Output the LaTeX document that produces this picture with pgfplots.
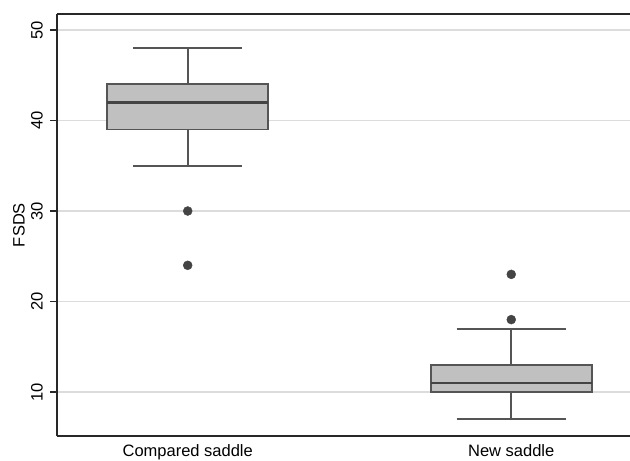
\documentclass[border=0pt]{standalone}
\usepackage{fontspec}
\setmainfont{Liberation Sans}
\usepackage{pgfplots}
\pgfplotsset{compat=1.18}
\definecolor{boxfill}{RGB}{192,192,192}
\definecolor{boxedge}{RGB}{85,85,85}
\definecolor{outl}{RGB}{68,68,68}
\definecolor{gridc}{RGB}{220,220,220}
\definecolor{spine}{RGB}{40,40,40}
\begin{document}
\begin{tikzpicture}
\useasboundingbox (0pt,0pt) rectangle (630pt,461pt);
\begin{axis}[
  at={(57pt,25pt)}, anchor=south west,
  scale only axis, width=573pt, height=422pt,
  xmin=0.596, xmax=2.367, ymin=5.14, ymax=51.77,
  axis x line=box, axis y line=left,
  axis line style={-, draw=spine, line width=1.6pt},
  xtick={1,2}, xticklabels={Compared saddle, New saddle},
  ytick={10,20,30,40,50},
  ymajorgrids, major grid style={draw=gridc, line width=1.5pt},
  tick style={draw=spine, line width=1.3pt},
  major tick length=7pt, tick align=outside,
  x tick style={draw=none},
  /pgf/number format/assume math mode=true,
  tick label style={font=\fontsize{16.5}{19}\selectfont, text=black},
  yticklabel style={rotate=90, anchor=south, inner sep=0pt, yshift=7pt},
  xticklabel style={anchor=north, inner sep=0pt, yshift=-1pt},
  ylabel={FSDS},
  every axis y label/.style={at={(axis description cs:-0.0558,0.5)}, rotate=90, anchor=south, inner sep=0pt, font=\fontsize{16.5}{19}\selectfont},
  boxbody/.style={draw=boxedge, line width=1.8pt, fill=boxfill, mark=none},
  wline/.style={draw=boxedge, line width=1.8pt, mark=none},
  medline/.style={draw=boxedge!80!black, line width=2.4pt, mark=none},
  outmark/.style={only marks, mark=*, mark size=4.5pt, mark options={fill=outl, draw=outl}},
]
% ---- Compared saddle: whiskers 35/48, quartiles 39/44, median 42
\addplot[wline] coordinates {(1,44) (1,48)};
\addplot[wline] coordinates {(0.8315,48) (1.1685,48)};
\addplot[wline] coordinates {(1,39) (1,35)};
\addplot[wline] coordinates {(0.8315,35) (1.1685,35)};
\addplot[boxbody] coordinates {(0.751,39) (1.249,39) (1.249,44) (0.751,44)} -- cycle;
\addplot[medline] coordinates {(0.751,42) (1.249,42)};
\addplot[outmark] coordinates {(1,30) (1,24)};
% ---- New saddle: whiskers 7/17, quartiles 10/13, median 11
\addplot[wline] coordinates {(2,13) (2,17)};
\addplot[wline] coordinates {(1.8315,17) (2.1685,17)};
\addplot[wline] coordinates {(2,10) (2,7)};
\addplot[wline] coordinates {(1.8315,7) (2.1685,7)};
\addplot[boxbody] coordinates {(1.751,10) (2.249,10) (2.249,13) (1.751,13)} -- cycle;
\addplot[medline] coordinates {(1.751,11) (2.249,11)};
\addplot[outmark] coordinates {(2,18) (2,23)};
\end{axis}
\end{tikzpicture}
\end{document}
